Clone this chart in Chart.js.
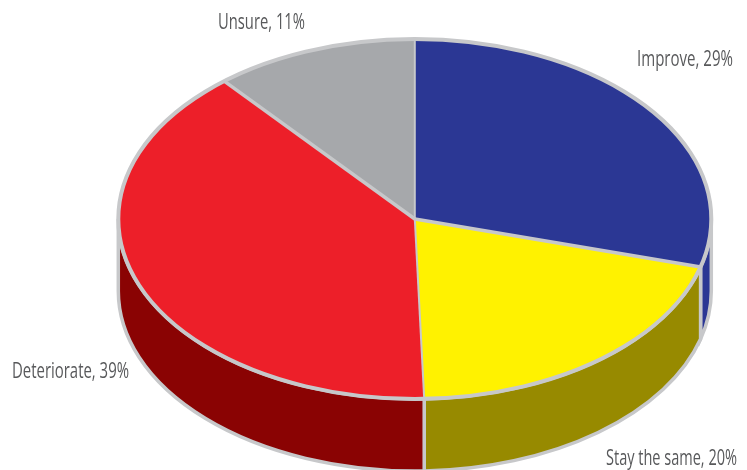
<!DOCTYPE html>
<html>
<head>
<meta charset="utf-8">
<script src="https://cdn.jsdelivr.net/npm/chart.js@4"></script>
<style>
html, body { margin: 0; padding: 0; background: #fff; overflow: hidden; }
canvas { display: block; }
</style>
</head>
<body>
<canvas id="pie" width="747" height="470"></canvas>
<script>
const categories = ['Improve', 'Stay the same', 'Deteriorate', 'Unsure'];
const shares = [29, 20, 39, 11];
const topColors = ['#2b3794', '#fff200', '#ed1f29', '#a6a8ab'];
const wallColors = ['#2b3794', '#978a00', '#8a0303', '#6f7072'];
const labelAnchors = [
    { x: 637, y: 66, width: 96 },
    { x: 606, y: 465, width: 131 },
    { x: 12, y: 378, width: 117 },
    { x: 218, y: 29, width: 87 }
];

// flache Ellipse statt Kreis
const centerX = 414.8, centerY = 219;
const radiusX = 296.5, radiusY = 180, depth = 72;
const edgeColor = '#c7c8ca';

function edgePoint(angle, dy) {
    return { x: centerX + radiusX * Math.cos(angle), y: centerY + radiusY * Math.sin(angle) + dy };
}

const tiltPlugin = {
    id: 'tilt',
    beforeDatasetsDraw(chart) {
        const ctx = chart.ctx;
        const arcs = chart.getDatasetMeta(0).data;

        // Seitenwand, nur die untere Hälfte ist sichtbar
        arcs.forEach((arc, i) => {
            let from = arc.startAngle, to = arc.endAngle;
            if (from < 0) from = 0;
            if (to > Math.PI) to = Math.PI;
            if (from >= to) return;
            ctx.beginPath();
            ctx.ellipse(centerX, centerY, radiusX, radiusY, 0, from, to);
            ctx.ellipse(centerX, centerY + depth, radiusX, radiusY, 0, to, from, true);
            ctx.closePath();
            ctx.fillStyle = wallColors[i];
            ctx.fill();
            ctx.strokeStyle = edgeColor;
            ctx.lineWidth = 3.5;
            ctx.stroke();
        });

        ctx.save();
        ctx.translate(centerX, centerY);
        ctx.scale(radiusX / radiusY, 1);
        ctx.translate(-arcs[0].x, -arcs[0].y);
    },
    afterDatasetsDraw(chart) {
        const ctx = chart.ctx;
        const arcs = chart.getDatasetMeta(0).data;
        ctx.restore();

        ctx.strokeStyle = edgeColor;
        ctx.lineCap = 'butt';

        // Trennlinien auf der Oberseite
        arcs.forEach((arc, i) => {
            const p = edgePoint(arc.startAngle, 0);
            ctx.beginPath();
            ctx.moveTo(centerX, centerY);
            ctx.lineTo(p.x, p.y);
            ctx.lineWidth = (i === 0 || i === 2) ? 2 : 3.5;
            ctx.stroke();
        });

        ctx.beginPath();
        ctx.ellipse(centerX, centerY, radiusX, radiusY, 0, 0, Math.PI * 2);
        ctx.lineWidth = 4;
        ctx.stroke();

        // Beschriftung, schmal gedrückt über maxWidth
        ctx.fillStyle = '#58595b';
        ctx.font = '21.5px "Open Sans", sans-serif';
        ctx.textAlign = 'left';
        ctx.textBaseline = 'alphabetic';
        categories.forEach((name, i) => {
            const a = labelAnchors[i];
            ctx.fillText(name + ', ' + shares[i] + '%', a.x, a.y, a.width);
        });
    }
};

new Chart(document.getElementById('pie'), {
    type: 'pie',
    data: {
        labels: categories,
        datasets: [{
            data: shares,
            backgroundColor: topColors,
            borderWidth: 0,
            clip: false
        }]
    },
    options: {
        responsive: false,
        animation: false,
        radius: radiusY,
        layout: { padding: 0 },
        plugins: { legend: { display: false }, tooltip: { enabled: false } }
    },
    plugins: [tiltPlugin]
});
</script>
</body>
</html>
